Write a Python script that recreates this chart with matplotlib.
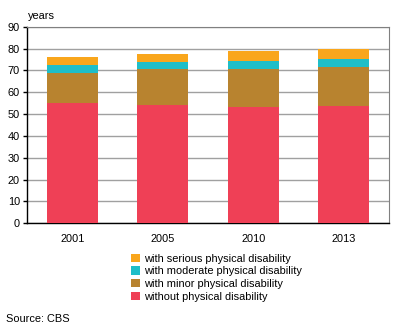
import matplotlib.pyplot as plt
import numpy as np

plt.rcParams['font.family'] = ['Liberation Sans', 'DejaVu Sans']

# Data
years = ['2001', '2005', '2010', '2013']
without_dis = [55.0, 54.1, 53.2, 53.8]
minor_dis = [13.8, 16.4, 17.4, 17.7]
moderate_dis = [3.7, 3.5, 3.6, 3.7]
serious_dis = [3.6, 3.6, 4.6, 4.6]

series = [
    ('without physical disability', without_dis, '#EF4056'),
    ('with minor physical disability', minor_dis, '#B8832F'),
    ('with moderate physical disability', moderate_dis, '#1FBEC8'),
    ('with serious physical disability', serious_dis, '#F9A61C'),
]

fs = 7.9

fig = plt.figure(figsize=(3.96, 3.29), dpi=100)
ax = fig.add_axes([27/396, 1 - 223.3/329, 362/396, 196.6/329])

x = np.arange(len(years))
bottom = np.zeros(len(years))
handles = []
for label, vals, color in series:
    b = ax.bar(x, vals, width=0.56, bottom=bottom, color=color, label=label, zorder=3)
    handles.append(b)
    bottom += np.array(vals)

ax.set_xlim(-0.5, 3.5)
ax.set_ylim(0, 90)
ax.set_yticks(range(0, 91, 10))
ax.set_xticks(x)
ax.set_xticklabels(years)
ax.yaxis.grid(True, color='#A0A0A0', linewidth=1, zorder=0)
ax.tick_params(axis='y', length=3, width=1, labelsize=fs, pad=2)
ax.tick_params(axis='x', length=0, labelsize=fs, pad=8)

for s in ['top', 'right']:
    ax.spines[s].set_color('#808080')
for s in ['left', 'bottom']:
    ax.spines[s].set_color('black')
    ax.spines[s].set_linewidth(1)

fig.text(28/396, 1 - 16/329, 'years', fontsize=fs, va='center', ha='left')

leg = fig.legend(handles[::-1], [s[0] for s in series][::-1],
                 loc='upper left', bbox_to_anchor=(131/396, 1 - 253.5/329),
                 frameon=False, fontsize=fs, handlelength=0.8, handleheight=0.8,
                 handletextpad=0.4, labelspacing=0.25, borderpad=0, borderaxespad=0)

fig.text(6/396, 1 - 319/329, 'Source: CBS', fontsize=fs, va='center', ha='left')

fig.savefig('out.png', dpi=100)
